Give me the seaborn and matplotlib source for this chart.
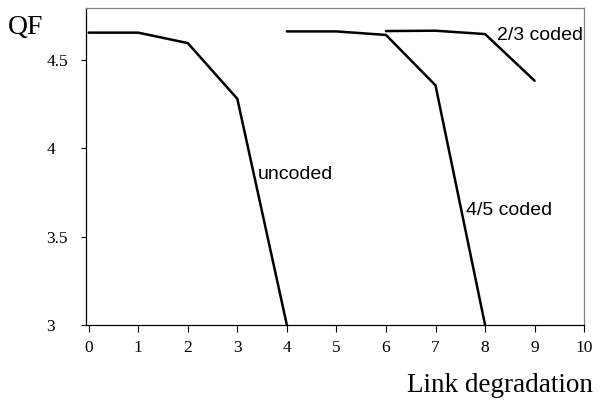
import seaborn as sns
import pandas as pd
import matplotlib.pyplot as plt

# link degradation vs QF for the three schemes
x_uncoded = [0, 1, 2, 3, 4]
qf_uncoded = [4.653, 4.653, 4.594, 4.279, 3.0]
x_45 = [4, 5, 6, 7, 8]
qf_45 = [4.66, 4.66, 4.64, 4.355, 3.0]
x_23 = [6, 7, 8, 9]
qf_23 = [4.662, 4.664, 4.645, 4.381]
names = ['uncoded', '4/5 coded', '2/3 coded']

df = pd.concat([
    pd.DataFrame({'x': x_uncoded, 'qf': qf_uncoded, 'scheme': names[0]}),
    pd.DataFrame({'x': x_45, 'qf': qf_45, 'scheme': names[1]}),
    pd.DataFrame({'x': x_23, 'qf': qf_23, 'scheme': names[2]}),
])

sns.set_style('white')
plt.rcParams['font.family'] = ['Liberation Serif', 'DejaVu Serif']
plt.rcParams['text.color'] = 'black'
plt.rcParams['xtick.color'] = 'black'
plt.rcParams['ytick.color'] = 'black'
plt.rcParams['axes.labelcolor'] = 'black'

fig = plt.figure(figsize=(6.01, 4.01), dpi=100)
ax = fig.add_axes([0.143, 0.1895, 0.829, 0.7895])
sns.lineplot(data=df, x='x', y='qf', hue='scheme', units='scheme', estimator=None,
             palette=['black'] * 3, linewidth=1.8, legend=False, ax=ax, sort=False)

ax.set_xlim(-0.055, 10.0)
ax.set_ylim(3.0, 4.79)
ax.set_xticks(range(11))
ax.set_yticks([3, 3.5, 4, 4.5])
ax.set_yticklabels(['3', '3.5', '4', '4.5'])
ax.set_xlabel('')
ax.set_ylabel('')
ax.tick_params(axis='x', direction='out', length=5, width=0.8, color='black',
               labelsize=12.5, pad=6, bottom=True)
ax.tick_params(axis='y', direction='out', length=3.6, width=0.8, color='black',
               labelsize=12.5, pad=25, left=True)
for lab in ax.get_yticklabels():
    lab.set_horizontalalignment('left')

for side in ['left', 'bottom']:
    ax.spines[side].set_color('black')
    ax.spines[side].set_linewidth(0.9)
for side in ['top', 'right']:
    ax.spines[side].set_color('#808080')
    ax.spines[side].set_linewidth(0.9)

lab_font = dict(family=['Liberation Sans', 'DejaVu Sans'], fontsize=14, va='baseline')
ax.text(3.42, 3.826, names[0], **lab_font)
ax.text(7.62, 3.623, names[1], **lab_font)
ax.text(8.25, 4.613, names[2], **lab_font)

fig.text(8 / 601, 1 - 34 / 401, 'QF', fontsize=20, va='baseline')
fig.text(593 / 601, 1 - 392 / 401, 'Link degradation', fontsize=19.5,
         ha='right', va='baseline')

fig.savefig('out.png', dpi=100)
